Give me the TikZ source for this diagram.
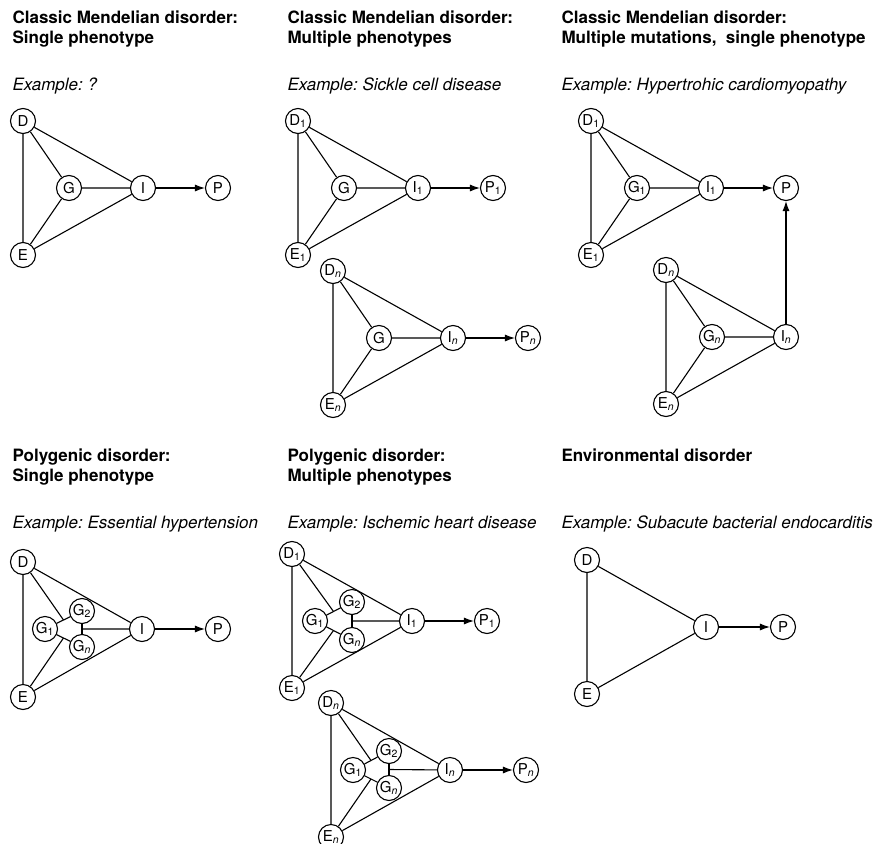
\documentclass[tikz,border=0pt]{standalone}
\usepackage{fontspec}
\setmainfont{TeX Gyre Heros}
\usepackage{tikz}
\usetikzlibrary{arrows,arrows.meta}

\newcommand{\sone}{\textsubscript{1}}
\newcommand{\stwo}{\textsubscript{2}}
\newcommand{\subn}{\textsubscript{\itshape n}}
\frenchspacing

\begin{document}
\begin{tikzpicture}[x=1pt,y=-1pt,line width=1.1pt,
  vtx/.style={shape=circle,draw,minimum size=25pt,inner sep=0pt,fill=white,font=\fontsize{15}{16}\selectfont},
  ttl/.style={anchor=base west,inner sep=0pt,font=\fontsize{17}{20}\selectfont\bfseries},
  exm/.style={anchor=base west,inner sep=0pt,font=\fontsize{17}{20}\selectfont\itshape},
  arw/.style={-{Latex[length=10pt,width=7pt]}}]
\useasboundingbox (0,0) rectangle (879,844);

% titles
\node [ttl] (ta1) at (12,23) {Classic Mendelian disorder:};
\node [ttl] (ta2) at (12,43) {Single phenotype};
\node [exm] (xa) at (12,90) {Example: ?};
\node [ttl] (tb1) at (287,23) {Classic Mendelian disorder:};
\node [ttl] (tb2) at (287,43) {Multiple phenotypes};
\node [exm] (xb) at (287,90) {Example: Sickle cell disease};
\node [ttl] (tc1) at (561,23) {Classic Mendelian disorder:};
\node [ttl] (tc2) at (561,43) {Multiple mutations,~ single phenotype};
\node [exm] (xc) at (561,90) {Example: Hypertrohic cardiomyopathy};
\node [ttl] (td1) at (12,461) {Polygenic disorder:};
\node [ttl] (td2) at (12,481) {Single phenotype};
\node [exm] (xd) at (12,528) {Example: Essential hypertension};
\node [ttl] (te1) at (287,461) {Polygenic disorder:};
\node [ttl] (te2) at (287,481) {Multiple phenotypes};
\node [exm] (xe) at (287,528) {Example: Ischemic heart disease};
\node [ttl] (tf1) at (561,461) {Environmental disorder};
\node [exm] (xf) at (561,528) {Example: Subacute bacterial endocarditis};

% single phenotype
\node [vtx] (aD) at (23,121) {D};
\node [vtx] (aE) at (23,255) {E};
\node [vtx] (aG) at (69,188) {G};
\node [vtx] (aI) at (143,188) {I};
\node [vtx] (aP) at (218,188) {P};
\draw (aD) -- (aE) (aD) -- (aG) (aD) -- (aI) (aE) -- (aG) (aE) -- (aI) (aG) -- (aI);
\draw[arw] (aI) -- (aP);

% multiple phenotypes
\node [vtx] (bD1) at (298,121) {D\sone};
\node [vtx] (bE1) at (298,255) {E\sone};
\node [vtx] (bG1) at (344,188) {G};
\node [vtx] (bI1) at (418,188) {I\sone};
\node [vtx] (bP1) at (493,188) {P\sone};
\draw (bD1) -- (bE1) (bD1) -- (bG1) (bD1) -- (bI1) (bE1) -- (bG1) (bE1) -- (bI1) (bG1) -- (bI1);
\draw[arw] (bI1) -- (bP1);
\node [vtx] (bDn) at (333,271) {D\subn};
\node [vtx] (bEn) at (333,405) {E\subn};
\node [vtx] (bGn) at (379,338) {G};
\node [vtx] (bIn) at (453,338) {I\subn};
\node [vtx] (bPn) at (528,338) {P\subn};
\draw (bDn) -- (bEn) (bDn) -- (bGn) (bDn) -- (bIn) (bEn) -- (bGn) (bEn) -- (bIn) (bGn) -- (bIn);
\draw[arw] (bIn) -- (bPn);

% multiple mutations
\node [vtx] (cD1) at (591,121) {D\sone};
\node [vtx] (cE1) at (591,255) {E\sone};
\node [vtx] (cG1) at (637,188) {G\sone};
\node [vtx] (cI1) at (711,188) {I\sone};
\node [vtx] (cP) at (786,188) {P};
\draw (cD1) -- (cE1) (cD1) -- (cG1) (cD1) -- (cI1) (cE1) -- (cG1) (cE1) -- (cI1) (cG1) -- (cI1);
\draw[arw] (cI1) -- (cP);
\node [vtx] (cDn) at (666,270) {D\subn};
\node [vtx] (cEn) at (666,404) {E\subn};
\node [vtx] (cGn) at (712,337) {G\subn};
\node [vtx] (cIn) at (786,337) {I\subn};
\draw (cDn) -- (cEn) (cDn) -- (cGn) (cDn) -- (cIn) (cEn) -- (cGn) (cEn) -- (cIn) (cGn) -- (cIn);
\draw[arw] (cIn) -- (cP);

% polygenic, single phenotype
\node [vtx] (dD) at (23,562) {D};
\node [vtx] (dE) at (23,697) {E};
\node [vtx] (dG1) at (45,629) {G\sone};
\node [vtx] (dG2) at (82,611) {G\stwo};
\node [vtx] (dGn) at (82,647) {G\subn};
\node [vtx] (dI) at (142,629) {I};
\node [vtx] (dP) at (218,629) {P};
\draw (dG1) -- coordinate (dU) (dG2);
\draw (dG1) -- coordinate (dL) (dGn);
\draw (dG2) -- coordinate (dM) (dGn);
\draw (dD) -- (dE) (dD) -- (dU) (dD) -- (dI) (dE) -- (dL) (dE) -- (dI) (dM) -- (dI);
\draw[arw] (dI) -- (dP);

% polygenic, multiple phenotypes
\node [vtx] (eD1) at (292,554) {D\sone};
\node [vtx] (eE1) at (292,688) {E\sone};
\node [vtx] (eG1) at (315,621) {G\sone};
\node [vtx] (eG2) at (352,602) {G\stwo};
\node [vtx] (eGn) at (352,640) {G\subn};
\node [vtx] (eI1) at (412,621) {I\sone};
\node [vtx] (eP1) at (487,621) {P\sone};
\draw (eG1) -- coordinate (eU) (eG2);
\draw (eG1) -- coordinate (eL) (eGn);
\draw (eG2) -- coordinate (eM) (eGn);
\draw (eD1) -- (eE1) (eD1) -- (eU) (eD1) -- (eI1) (eE1) -- (eL) (eE1) -- (eI1) (eM) -- (eI1);
\draw[arw] (eI1) -- (eP1);
\node [vtx] (eDn) at (331,703) {D\subn};
\node [vtx] (eEn) at (331,837) {E\subn};
\node [vtx] (eH1) at (353,770) {G\sone};
\node [vtx] (eH2) at (389,751) {G\stwo};
\node [vtx] (eHn) at (389,788) {G\subn};
\node [vtx] (eIn) at (450,770) {I\subn};
\node [vtx] (ePn) at (526,770) {P\subn};
\draw (eH1) -- coordinate (eV) (eH2);
\draw (eH1) -- coordinate (eW) (eHn);
\draw (eH2) -- coordinate (eN) (eHn);
\draw (eDn) -- (eEn) (eDn) -- (eV) (eDn) -- (eIn) (eEn) -- (eW) (eEn) -- (eIn) (eN) -- (eIn);
\draw[arw] (eIn) -- (ePn);

% environmental
\node [vtx] (fD) at (587,560) {D};
\node [vtx] (fE) at (587,694) {E};
\node [vtx] (fI) at (706,627) {I};
\node [vtx] (fP) at (783,627) {P};
\draw (fD) -- (fE) (fD) -- (fI) (fE) -- (fI);
\draw[arw] (fI) -- (fP);
\end{tikzpicture}
\end{document}
